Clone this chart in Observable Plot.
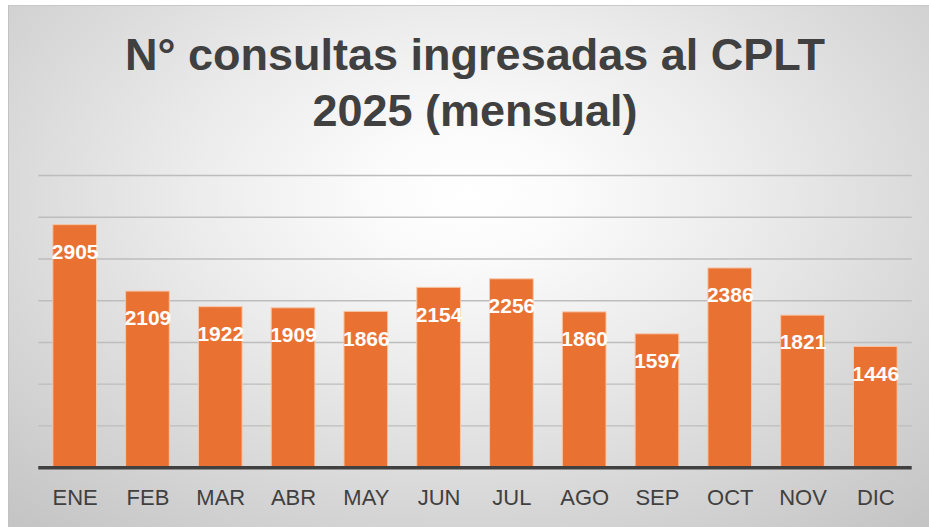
<!DOCTYPE html>
<html>
<head>
<meta charset="utf-8">
<script src="https://cdn.jsdelivr.net/npm/d3@7"></script>
<script src="https://cdn.jsdelivr.net/npm/@observablehq/plot@0.6"></script>
<style>
  html, body { margin: 0; padding: 0; background: #ffffff; width: 929px; height: 527px; overflow: hidden; }
  #panel {
    position: absolute; left: 8px; top: 5px; width: 921px; height: 522px;
    background: radial-gradient(ellipse 75% 85% at 50% 36%, #ffffff 0%, #fbfbfb 14%, #ececec 40%, #d6d6d6 72%, #c4c4c4 100%);
    border-left: 1px solid #c2c2c2; border-top: 1px solid #c8c8c8;
    box-sizing: border-box;
  }
  #title {
    position: absolute; left: 6px; top: 21px; width: 920px; text-align: center;
    font-family: "Liberation Sans", Arial, sans-serif; font-weight: bold;
    font-size: 45px; line-height: 56px; color: #404040;
  }
  #chart { position: absolute; left: 0; top: 145px; }
</style>
</head>
<body>
<div id="panel">
  <div id="title">N° consultas ingresadas al CPLT<br>2025 (mensual)</div>
  <div id="chart"></div>
</div>
<script>
const months = ["ENE", "FEB", "MAR", "ABR", "MAY", "JUN", "JUL", "AGO", "SEP", "OCT", "NOV", "DIC"];
const consultas = [2905, 2109, 1922, 1909, 1866, 2154, 2256, 1860, 1597, 2386, 1821, 1446];
const gridValues = [500, 1000, 1500, 2000, 2500, 3000, 3500];

const data = months.map((m, i) => ({month: m, value: consultas[i]}));

const chart = Plot.plot({
  width: 921,
  height: 376,
  marginTop: 24,
  marginBottom: 59.5,
  marginLeft: 29.3,
  marginRight: 17.3,
  style: {background: "transparent", overflow: "visible", fontFamily: "'Liberation Sans', Arial, sans-serif"},
  x: {domain: months, paddingInner: 0.4, paddingOuter: 0.2, round: false, label: null},
  y: {domain: [0, 3500], axis: null},
  marks: [
    Plot.ruleY(gridValues, {stroke: "#bdbdbd", strokeWidth: 1.4}),
    Plot.barY(data, {x: "month", y: "value", fill: "#E97132", stroke: "#f7c6a6", strokeWidth: 1}),
    Plot.ruleY([0], {stroke: "#404040", strokeWidth: 3.5}),
    Plot.text(data, {x: "month", y: "value", text: d => String(d.value), dy: 27, fill: "#ffffff", fontSize: 21, fontWeight: "bold"}),
    Plot.axisX({tickSize: 0, tickPadding: 22, fontSize: 22, color: "#404040", label: null})
  ]
});
document.getElementById("chart").appendChild(chart);
</script>
</body>
</html>
